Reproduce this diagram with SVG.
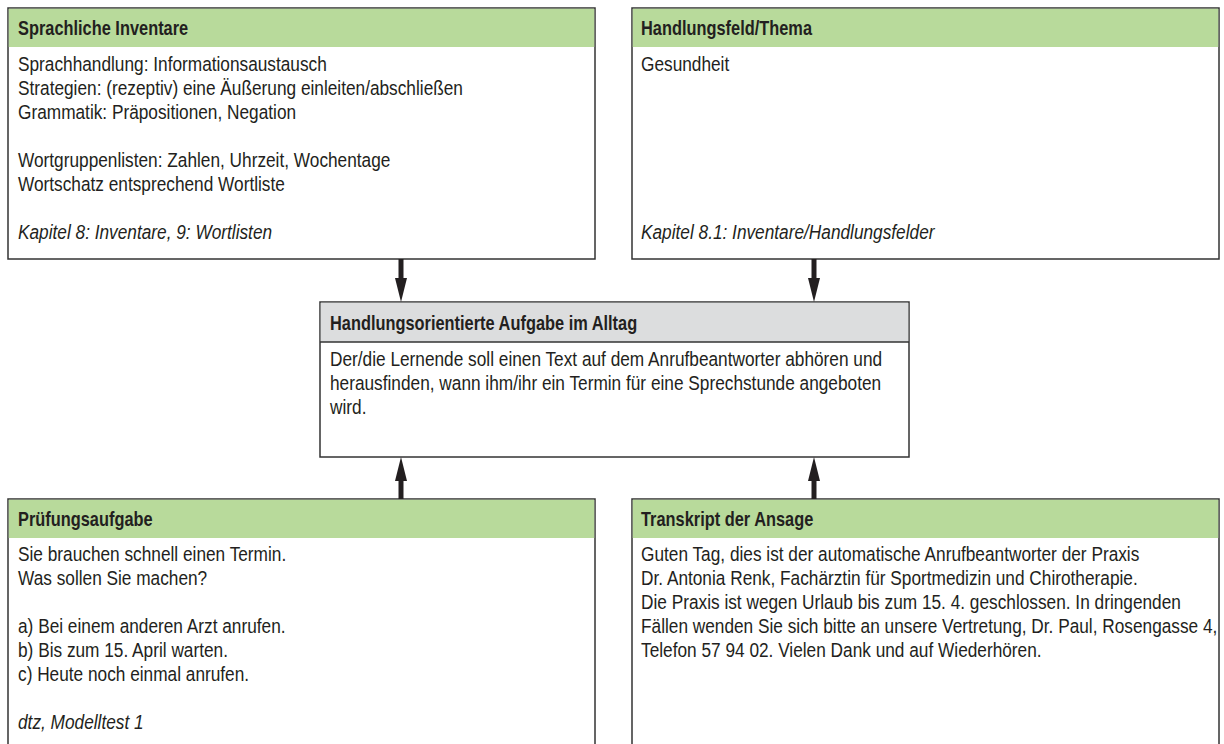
<svg xmlns="http://www.w3.org/2000/svg" width="1224" height="744" viewBox="0 0 1224 744">
<style>
.box{fill:#ffffff;stroke:#333333;stroke-width:1.5}
.hg{fill:#b8da9b}
.hy{fill:#dcddde}
.sep{stroke:#333333;stroke-width:1.5}
text{font-family:"Liberation Sans",Arial,sans-serif;fill:#231f20}
.h{font-size:19.5px;font-weight:bold}
.t{font-size:19.5px}
.i{font-size:19.5px;font-style:italic}
.shaft{stroke:#231f20;stroke-width:5;fill:none}
.head{fill:#231f20}
</style>
<rect width="1224" height="744" fill="#ffffff"/>
<g id="sprachliche-inventare">
<rect class="box" x="8" y="8" width="587" height="251"/>
<rect class="hg" x="8.75" y="8.75" width="585.5" height="38.25"/>
<g transform="translate(18 0) scale(0.84 1)">
<text class="h" x="0" y="35">Sprachliche Inventare</text>
</g>
<g transform="translate(18 0) scale(0.885 1)">
<text class="t" x="0" y="71">Sprachhandlung: Informationsaustausch</text>
<text class="t" x="0" y="95">Strategien: (rezeptiv) eine Äußerung einleiten/abschließen</text>
<text class="t" x="0" y="119">Grammatik: Präpositionen, Negation</text>
<text class="t" x="0" y="167">Wortgruppenlisten: Zahlen, Uhrzeit, Wochentage</text>
<text class="t" x="0" y="191">Wortschatz entsprechend Wortliste</text>
<text class="i" x="0" y="239">Kapitel 8: Inventare, 9: Wortlisten</text>
</g>
</g>
<g id="handlungsfeld-thema">
<rect class="box" x="632" y="8" width="587" height="251"/>
<rect class="hg" x="632.75" y="8.75" width="585.5" height="38.25"/>
<g transform="translate(641 0) scale(0.84 1)">
<text class="h" x="0" y="35">Handlungsfeld/Thema</text>
</g>
<g transform="translate(641 0) scale(0.885 1)">
<text class="t" x="0" y="71">Gesundheit</text>
<text class="i" x="0" y="239">Kapitel 8.1: Inventare/Handlungsfelder</text>
</g>
</g>
<g id="handlungsorientierte-aufgabe">
<rect class="box" x="320" y="302" width="589" height="155"/>
<rect class="hy" x="320.75" y="302.75" width="587.5" height="39.25"/>
<line class="sep" x1="320" y1="342" x2="909" y2="342"/>
<g transform="translate(330 0) scale(0.84 1)">
<text class="h" x="0" y="330">Handlungsorientierte Aufgabe im Alltag</text>
</g>
<g transform="translate(330 0) scale(0.885 1)">
<text class="t" x="0" y="366">Der/die Lernende soll einen Text auf dem Anrufbeantworter abhören und</text>
<text class="t" x="0" y="390">herausfinden, wann ihm/ihr ein Termin für eine Sprechstunde angeboten</text>
<text class="t" x="0" y="414">wird.</text>
</g>
</g>
<g id="pruefungsaufgabe">
<rect class="box" x="8" y="499" width="587" height="270"/>
<rect class="hg" x="8.75" y="499.75" width="585.5" height="38.25"/>
<g transform="translate(18 0) scale(0.84 1)">
<text class="h" x="0" y="526">Prüfungsaufgabe</text>
</g>
<g transform="translate(18 0) scale(0.885 1)">
<text class="t" x="0" y="561">Sie brauchen schnell einen Termin.</text>
<text class="t" x="0" y="585">Was sollen Sie machen?</text>
<text class="t" x="0" y="633">a) Bei einem anderen Arzt anrufen.</text>
<text class="t" x="0" y="657">b) Bis zum 15. April warten.</text>
<text class="t" x="0" y="681">c) Heute noch einmal anrufen.</text>
<text class="i" x="0" y="729">dtz, Modelltest 1</text>
</g>
</g>
<g id="transkript">
<rect class="box" x="632" y="499" width="587" height="270"/>
<rect class="hg" x="632.75" y="499.75" width="585.5" height="38.25"/>
<g transform="translate(641 0) scale(0.84 1)">
<text class="h" x="0" y="526">Transkript der Ansage</text>
</g>
<g transform="translate(641 0) scale(0.885 1)">
<text class="t" x="0" y="561">Guten Tag, dies ist der automatische Anrufbeantworter der Praxis</text>
<text class="t" x="0" y="585">Dr. Antonia Renk, Fachärztin für Sportmedizin und Chirotherapie.</text>
<text class="t" x="0" y="609">Die Praxis ist wegen Urlaub bis zum 15. 4. geschlossen. In dringenden</text>
<text class="t" x="0" y="633">Fällen wenden Sie sich bitte an unsere Vertretung, Dr. Paul, Rosengasse 4,</text>
<text class="t" x="0" y="657">Telefon 57 94 02. Vielen Dank und auf Wiederhören.</text>
</g>
</g>
<g id="connectors">
<line class="shaft" x1="401" y1="259" x2="401" y2="280"/>
<polygon class="head" points="395,278 407,278 401,302"/>
<line class="shaft" x1="814" y1="259" x2="814" y2="280"/>
<polygon class="head" points="808,278 820,278 814,302"/>
<line class="shaft" x1="401" y1="499" x2="401" y2="479"/>
<polygon class="head" points="395,481 407,481 401,457"/>
<line class="shaft" x1="814" y1="499" x2="814" y2="479"/>
<polygon class="head" points="808,481 820,481 814,457"/>
</g>
</svg>
